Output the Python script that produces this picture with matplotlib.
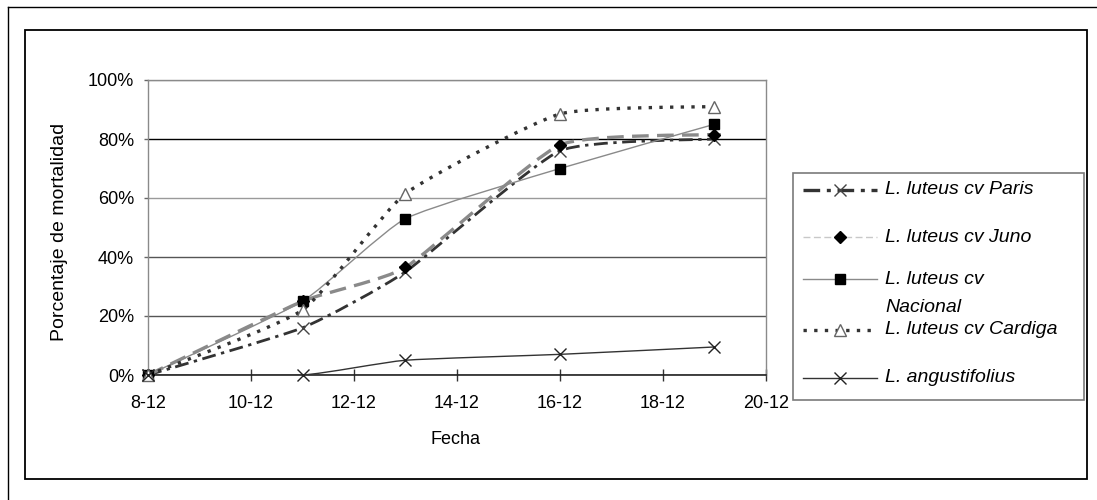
import numpy as np
import matplotlib
matplotlib.use('Agg')
import matplotlib.pyplot as plt
from matplotlib.path import Path
from matplotlib.patches import PathPatch, Rectangle
from matplotlib.lines import Line2D

# ---------------- data ----------------
days = [8, 11, 13, 16, 19]
paris = [0, 16, 35, 76, 80]
juno = [0, 25, 36.5, 78, 81.5]
nacional = [0, 25, 53, 70, 85]
cardiga = [0, 22, 61.5, 88.5, 91]
angustifolius = [0, 0, 5, 7, 9.5]

series_labels = ['L. luteus cv Paris', 'L. luteus cv Juno', 'L. luteus cv\nNacional',
                 'L. luteus cv Cardiga', 'L. angustifolius']
xticks = [8, 10, 12, 14, 16, 18, 20]
xticklabels = ['8-12', '10-12', '12-12', '14-12', '16-12', '18-12', '20-12']
yticks = [0, 20, 40, 60, 80, 100]
yticklabels = ['0%', '20%', '40%', '60%', '80%', '100%']
xlabel = 'Fecha'
ylabel = 'Porcentaje de mortalidad'

plt.rcParams['font.family'] = ['Liberation Sans', 'DejaVu Sans']
FS = 13
LFS = 14

W, H = 1097, 500
fig = plt.figure(figsize=(W / 100, H / 100), dpi=100)


def fx(px):
    return px / W


def fy(py):
    return 1 - py / H


ax = fig.add_axes([fx(148), fy(375), fx(766) - fx(148), fy(80) - fy(375)])
ax.set_xlim(8, 20)
ax.set_ylim(0, 100)


def smooth_path(x, y, k=12.0):
    pts = np.column_stack([x, y]).astype(float)
    n = len(pts)
    verts = [pts[0]]
    codes = [Path.MOVETO]
    for i in range(n - 1):
        p0 = pts[i - 1] if i > 0 else pts[i]
        p1 = pts[i]
        p2 = pts[i + 1]
        p3 = pts[i + 2] if i + 2 < n else pts[i + 1]
        c1 = p1 + (p2 - p0) / k
        c2 = p2 - (p3 - p1) / k
        verts += [c1, c2, p2]
        codes += [Path.CURVE4] * 3
    return Path(verts, codes)


styles = [
    dict(data=paris, color='#333333', lw=2.0, ls=(0, (5, 2, 1.2, 2)),
         marker='x', ms=9, mfc='none', mec='#444444', mew=1.0),
    dict(data=juno, color='#8a8a8a', lw=2.4, ls=(0, (5, 2.5)),
         marker='D', ms=6.5, mfc='black', mec='black', mew=1.0),
    dict(data=nacional, color='#8a8a8a', lw=1.0, ls='-',
         marker='s', ms=7, mfc='black', mec='black', mew=1.0),
    dict(data=cardiga, color='#333333', lw=2.4, ls=(0, (1, 2.2)),
         marker='^', ms=8, mfc='white', mec='#666666', mew=1.0),
    dict(data=angustifolius, color='#333333', lw=1.0, ls='-',
         marker='x', ms=9, mfc='none', mec='#222222', mew=1.0),
]

for z, st in enumerate(styles):
    patch = PathPatch(smooth_path(days, st['data']), facecolor='none',
                      edgecolor=st['color'], lw=st['lw'], linestyle=st['ls'],
                      capstyle='butt', zorder=3 + z * 0.1)
    ax.add_patch(patch)

for z, st in enumerate(styles):
    ax.plot(days, st['data'], linestyle='none', marker=st['marker'], ms=st['ms'],
            mfc=st['mfc'], mec=st['mec'], mew=st['mew'], zorder=5 + z * 0.1,
            clip_on=False)

# grid
ax.set_yticks(yticks)
ax.set_yticklabels(yticklabels, fontsize=FS)
ax.set_xticks(xticks)
ax.set_xticklabels(xticklabels, fontsize=FS)
ax.yaxis.grid(True, lw=1.0)
grid_colors = ['#000000', '#555555', '#555555', '#9a9a9a', '#000000', '#9a9a9a']
for gl, c in zip(ax.get_ygridlines(), grid_colors):
    gl.set_color(c)
ax.set_axisbelow(True)

for s in ['left', 'top', 'right']:
    ax.spines[s].set_color('#8a8a8a')
    ax.spines[s].set_linewidth(1.0)
ax.spines['bottom'].set_color('#222222')
ax.spines['bottom'].set_linewidth(1.2)

ax.tick_params(axis='x', direction='inout', length=9, width=1.0, color='#333333',
               pad=10, labelsize=FS)
ax.tick_params(axis='y', direction='out', length=3, width=1.0, color='#666666',
               pad=7, labelsize=FS)

fig.text(fx(59), fy(232), ylabel, rotation=90, ha='center', va='center', fontsize=LFS)
fig.text(fx(455), fy(440), xlabel, ha='center', va='center', fontsize=FS)

# frames
fig.add_artist(Line2D([fx(8), fx(8)], [fy(7), 0], transform=fig.transFigure,
                      color='black', lw=1.0))
fig.add_artist(Line2D([fx(8), 1], [fy(7), fy(7)], transform=fig.transFigure,
                      color='black', lw=1.0))
fig.add_artist(Rectangle((fx(25), fy(479)), fx(1087) - fx(25), fy(30) - fy(479),
                         transform=fig.transFigure, fill=False, edgecolor='black', lw=1.3))

# legend (manual)
fig.add_artist(Rectangle((fx(793), fy(400)), fx(1084) - fx(793), fy(173) - fy(400),
                         transform=fig.transFigure, facecolor='white',
                         edgecolor='#7a7a7a', lw=1.2))
leg_y = [190, 237, 279, 330, 378]
leg_line_colors = ['#333333', '#c8c8c8', '#8a8a8a', '#333333', '#333333']
leg_line_lw = [2.4, 1.0, 1.0, 2.4, 1.0]
for st, ly, lab, lc, llw in zip(styles, leg_y, series_labels, leg_line_colors, leg_line_lw):
    fig.add_artist(Line2D([fx(803), fx(877)], [fy(ly), fy(ly)], transform=fig.transFigure,
                          color=lc, lw=llw, linestyle=st['ls'], dash_capstyle='butt'))
    fig.add_artist(Line2D([fx(840)], [fy(ly)], transform=fig.transFigure,
                          linestyle='none', marker=st['marker'], ms=st['ms'],
                          mfc=st['mfc'], mec=st['mec'], mew=st['mew']))
    lines = lab.split('\n')
    for j, t in enumerate(lines):
        fig.text(fx(885), fy(ly + 28 * j), t, ha='left', va='center', fontsize=LFS,
                 style='italic')

fig.savefig('out.png', dpi=100)
